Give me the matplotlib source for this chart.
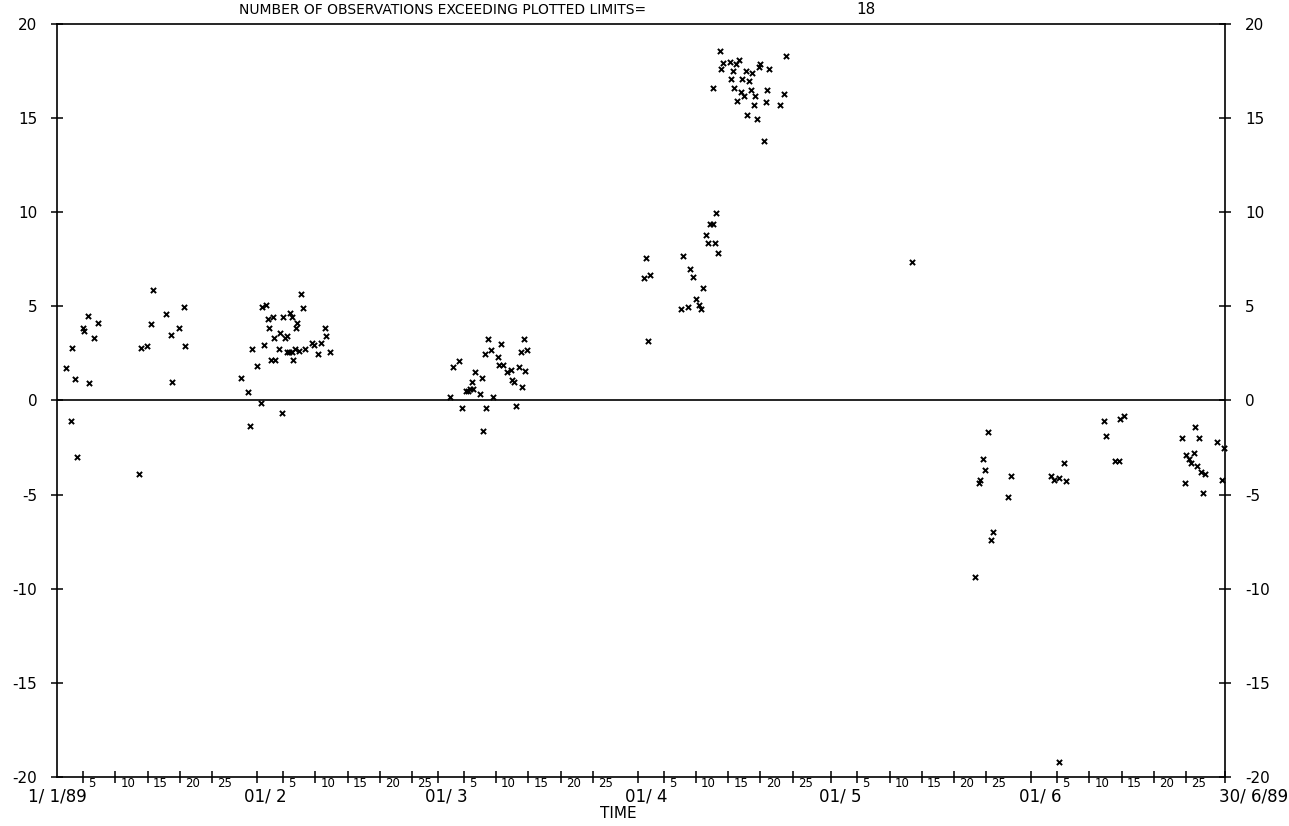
import matplotlib
matplotlib.use('Agg')
import matplotlib.pyplot as plt
import matplotlib.transforms as mtransforms
import numpy as np

plt.rcParams['font.family'] = ['DejaVu Sans']
plt.rcParams['axes.unicode_minus'] = False

# day of year (0 = 1 Jan 1989) and observed value
days = [
    # January
    1.35, 2.33, 2.74, 2.08, 3.0, 3.9, 4.2, 4.76, 4.96, 5.7, 6.26, 12.7,
    13.0, 13.95, 14.8, 14.45, 16.9, 17.6, 17.8, 18.9, 19.6, 19.85,
    # February
    28.5, 29.6, 29.8, 30.1, 30.9, 31.5, 31.8, 32.4, 32.1, 32.6, 32.8, 33.1, 33.8,
    33.4, 33.6, 34.5, 34.4, 34.8, 35.0, 35.25, 35.56, 35.66, 35.9, 36.4, 36.1,
    36.3, 36.5, 36.85, 37.0, 37.2, 37.5, 37.8, 38.05, 38.45, 39.5, 39.8, 40.4,
    40.9, 41.45, 41.65, 42.2,
    # March
    60.8, 61.3, 62.3, 62.7, 63.3, 63.6, 64.0, 64.5, 64.25, 64.8, 65.5, 65.8,
    65.95, 66.26, 66.5, 66.8, 67.3, 67.5, 68.3, 68.5, 69.05, 68.8, 69.76, 70.3,
    70.5, 70.85, 71.05, 71.5, 71.8, 72.0, 72.3, 72.55, 72.8,
    # April
    91.2, 90.9, 91.9, 91.6, 97.05, 98.0, 98.55, 96.7, 97.7, 99.07, 99.5, 99.8,
    100.1, 100.6, 100.9, 101.9, 101.1, 101.6, 102.1, 102.4,
    102.7, 101.6, 103.2, 102.9, 104.25, 105.2, 105.7, 104.75, 104.45, 104.96,
    106.2, 106.7, 105.95, 106.46, 107.2, 107.75, 107.5, 108.2, 105.4, 107.96,
    108.7, 108.96, 110.3, 110.05, 109.8, 106.97, 108.5, 109.5, 112.9, 112.6, 112.1,
    # May
    132.5, 142.3, 142.8, 143.1, 143.5, 143.8, 144.3, 144.7, 145.1, 147.3, 147.8,
    # June
    154.0, 154.5, 155.2, 155.2, 156.0, 156.3, 162.2, 162.6, 164.0, 164.5,
    164.8, 165.3,
    174.3, 174.8, 175.0, 175.4, 175.8, 176.2, 176.4, 176.7, 177.0, 177.3,
    177.6, 177.9, 179.7, 180.6, 180.9,
]
values = [
    1.71, 2.8, 1.14, -1.09, -2.98, 3.86, 3.69, 4.5, 0.94, 3.3, 4.1, -3.9,
    2.77, 2.87, 5.86, 4.06, 4.57, 3.47, 0.98, 3.86, 4.96, 2.87,
    1.18, 0.45, -1.34, 2.73, 1.85, -0.15, 4.94, 5.05, 2.93, 4.32, 3.83, 2.16, 2.16,
    4.43, 3.33, 3.56, 2.73, -0.65, 4.45, 3.33, 3.44, 2.56, 2.59, 2.59, 4.66,
    4.43, 2.16, 2.75, 3.83, 4.13, 2.64, 5.63, 4.92, 2.73, 3.07, 2.94, 2.45,
    3.05, 3.83, 3.42, 2.56,
    0.2, 1.79, 2.1, -0.38, 0.5, 0.5, 0.61, 0.61, 0.98, 1.5, 0.33, 1.19,
    -1.6, 2.47, -0.4, 3.26, 2.68, 0.2, 2.29, 1.9, 1.9, 3.0, 1.5, 1.6,
    1.1, 0.98, -0.31, 1.79, 2.57, 0.7, 3.26, 1.58, 2.7,
    7.58, 6.48, 6.67, 3.16, 7.68, 6.98, 6.57, 4.87, 4.96, 5.37, 5.05, 4.87,
    5.97, 8.78, 8.37, 8.37, 9.38, 9.38, 9.96, 7.86,
    18.58, 16.58, 17.9, 17.59, 17.97, 17.87, 18.1, 17.48, 17.07, 16.58,
    17.09, 17.5, 16.38, 16.17, 16.99, 17.37, 16.47, 16.17, 15.89, 15.68,
    17.71, 17.87, 17.59, 16.47, 15.87, 15.18, 14.97, 13.77, 18.29, 16.28, 15.68,
    7.35, -9.4, -4.4, -4.2, -3.1, -3.7, -1.7, -7.4, -7.0, -5.1, -4.0,
    -4.0, -4.2, -4.1, -19.2, -3.3, -4.3, -1.1, -1.9, -3.2, -3.2,
    -1.0, -0.8,
    -2.0, -4.4, -2.9, -3.1, -3.3, -2.8, -1.4, -3.5, -2.0, -3.8,
    -4.9, -3.9, -2.2, -4.2, -2.5,
]

month_starts = [0, 31, 59, 90, 120, 151]
month_labels = ['1/ 1/89', '01/ 2', '01/ 3', '01/ 4', '01/ 5', '01/ 6']
day_ticks = [5, 10, 15, 20, 25]
end_day = 181
end_label = '30/ 6/89'
yticks = [-20, -15, -10, -5, 0, 5, 10, 15, 20]
n_exceed = 18

fig = plt.figure(figsize=(12.89, 8.26), dpi=100)
ax = fig.add_axes([0.0445, 0.0593, 0.9058, 0.9117])
ax.scatter(days, values, marker='x', s=14, c='black', linewidths=1.4, clip_on=False, zorder=3)
ax.axhline(0, color='black', lw=1.2)

ax.set_xlim(0, end_day)
ax.set_ylim(-20, 20)
for s in ax.spines.values():
    s.set_linewidth(1.2)

ax.set_yticks(yticks)
ax.tick_params(axis='y', direction='inout', length=9, width=1.1, labelsize=11,
               left=True, right=True, labelleft=True, labelright=True, pad=10)

# x ticks: month starts (major), every 5 days (minor)
minor = [m + d - 1 for m in month_starts for d in day_ticks]
ax.set_xticks(month_starts[1:] + [end_day])
ax.set_xticks(minor, minor=True)
ax.tick_params(axis='x', which='both', direction='inout', length=9, width=1.1,
               labelbottom=False)

trans = mtransforms.blended_transform_factory(ax.transData, ax.transAxes)
for m in month_starts:
    for d in day_ticks:
        ax.text(m + d - 1 + 0.8, -0.008, str(d), transform=trans, fontsize=8.5,
                ha='left', va='center')
for m, lab in zip(month_starts, month_labels):
    x = m + 1.3 if m > 0 else m
    ax.text(x, -0.026, lab, transform=trans, fontsize=12, ha='center', va='center')
ax.text(end_day + 4.5, -0.026, end_label, transform=trans, fontsize=12,
        ha='center', va='center')
ax.text(87, -0.048, 'TIME', transform=trans, fontsize=11, ha='center', va='center')

fig.text(0.343, 0.988, 'NUMBER OF OBSERVATIONS EXCEEDING PLOTTED LIMITS=',
         fontsize=10, ha='center', va='center')
fig.text(0.672, 0.988, str(n_exceed), fontsize=11, ha='center', va='center')

fig.savefig('out.png', dpi=100)
